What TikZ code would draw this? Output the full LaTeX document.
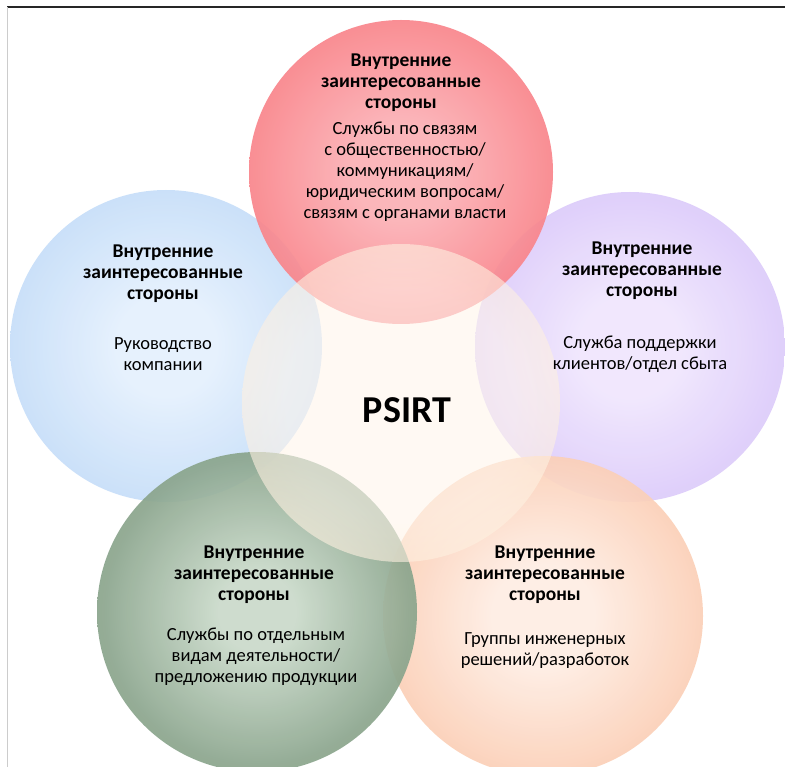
\documentclass[tikz,border=0pt]{standalone}
\usepackage{fontspec}
\setmainfont{Carlito}
\usetikzlibrary{calc}

% radial colour ramps for the six discs
\definecolor{redin}{RGB}{251,176,181}
\definecolor{redmid}{RGB}{249,128,134}
\definecolor{redout}{RGB}{241,86,94}
\definecolor{bluein}{RGB}{228,240,253}
\definecolor{bluemid}{RGB}{195,220,248}
\definecolor{blueout}{RGB}{158,194,240}
\definecolor{purin}{RGB}{240,230,253}
\definecolor{purmid}{RGB}{218,200,250}
\definecolor{purout}{RGB}{193,162,245}
\definecolor{grnin}{RGB}{202,218,202}
\definecolor{grnmid}{RGB}{140,166,142}
\definecolor{grnout}{RGB}{88,122,92}
\definecolor{orgin}{RGB}{254,237,227}
\definecolor{orgmid}{RGB}{251,204,178}
\definecolor{orgout}{RGB}{246,172,134}
\definecolor{cenin}{RGB}{255,246,236}
\definecolor{cenmid}{RGB}{252,230,204}
\definecolor{cenout}{RGB}{240,196,152}

\pgfdeclareradialshading{redball}{\pgfpoint{0bp}{0bp}}{color(0bp)=(redin); color(8bp)=(redin); color(27bp)=(redmid); color(50bp)=(redout)}
\pgfdeclareradialshading{blueball}{\pgfpoint{0bp}{0bp}}{color(0bp)=(bluein); color(8bp)=(bluein); color(27bp)=(bluemid); color(50bp)=(blueout)}
\pgfdeclareradialshading{purball}{\pgfpoint{0bp}{0bp}}{color(0bp)=(purin); color(8bp)=(purin); color(27bp)=(purmid); color(50bp)=(purout)}
\pgfdeclareradialshading{grnball}{\pgfpoint{0bp}{0bp}}{color(0bp)=(grnin); color(6bp)=(grnin); color(24bp)=(grnmid); color(50bp)=(grnout)}
\pgfdeclareradialshading{orgball}{\pgfpoint{0bp}{0bp}}{color(0bp)=(orgin); color(8bp)=(orgin); color(27bp)=(orgmid); color(50bp)=(orgout)}
\pgfdeclareradialshading{cenball}{\pgfpoint{0bp}{0bp}}{color(0bp)=(cenin); color(18bp)=(cenin); color(38bp)=(cenmid); color(50bp)=(cenout)}

\tikzset{
  disc/.style={shading=#1, opacity=0.92},
  hubdisc/.style={shading=#1, opacity=0.6},
  headtxt/.style={align=center, inner sep=0pt, font=\bfseries\fontsize{19.5}{21}\selectfont},
  bodytxt/.style={align=center, inner sep=0pt, font=\fontsize{18.5}{21}\selectfont},
  hubtxt/.style={inner sep=0pt, font=\bfseries\fontsize{38}{40}\selectfont}
}

\begin{document}
\begin{tikzpicture}[x=1pt,y=-1pt]
\useasboundingbox (0,0) rectangle (785,767);
\fill[white] (0,0) rectangle (785,767);

% outer discs, then the hub on top
\shade[disc=blueball] (166,346) circle[radius=156];
\shade[disc=purball]  (630,347) circle[radius=155];
\shade[disc=orgball]  (543,616) circle[radius=160];
\shade[disc=grnball]  (257,612) circle[radius=160];
\shade[disc=redball]  (401,172) circle[radius=152];
\shade[hubdisc=cenball] (401,403) circle[radius=159];

% frame lines
\draw[black!85, line width=1.2pt] (7,7) -- (785,7);
\draw[black!20, line width=1pt] (7,7) -- (7,767);

% labels
\node[hubtxt] (hub) at (407,410) {PSIRT};

\node[headtxt] (redhead) at (401,83) {Внутренние\\заинтересованные\\стороны};
\node[bodytxt] (redbody) at (405,172) {Службы по связям\\с общественностью/\\коммуникациям/\\юридическим вопросам/\\связям с органами власти};

\node[headtxt] (bluehead) at (163,274) {Внутренние\\заинтересованные\\стороны};
\node[bodytxt] (bluebody) at (163,354) {Руководство\\компании};

\node[headtxt] (purhead) at (642,271) {Внутренние\\заинтересованные\\стороны};
\node[bodytxt] (purbody) at (640,354) {Служба поддержки\\клиентов/отдел сбыта};

\node[headtxt] (grnhead) at (254,575) {Внутренние\\заинтересованные\\стороны};
\node[bodytxt] (grnbody) at (256,657) {Службы по отдельным\\видам деятельности/\\предложению продукции};

\node[headtxt] (orghead) at (545,575) {Внутренние\\заинтересованные\\стороны};
\node[bodytxt] (orgbody) at (545,651) {Группы инженерных\\решений/разработок};
\end{tikzpicture}
\end{document}
